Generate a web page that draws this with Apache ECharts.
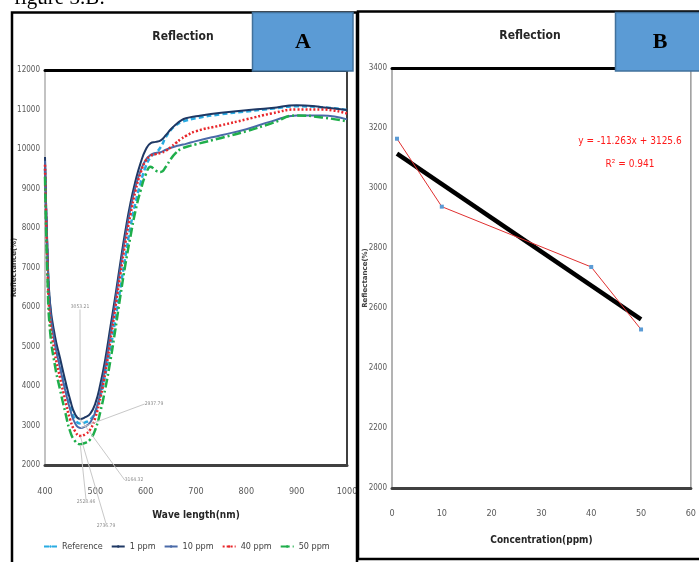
<!DOCTYPE html>
<html>
<head>
<meta charset="utf-8">
<script src="https://cdn.jsdelivr.net/npm/echarts@6/dist/echarts.min.js"></script>
<style>
html,body{margin:0;padding:0;background:#fff;}
#chart{width:699px;height:562px;}
</style>
</head>
<body>
<div id="chart"></div>
<script>
// ---------- Panel A data ----------
const wavelength = [400,405,410,420,430,440,450,460,470,480,490,500,510,520,530,540,550,560,570,580,590,600,610,620,630,640,650,660,670,680,700,750,800,850,900,950,1000];
const reference = [9500,7200,6000,5100,4550,4000,3500,3150,3053.21,3080,3150,3350,3750,4300,4950,5700,6500,7300,8050,8650,9150,9550,9800,9900,10050,10300,10480,10600,10680,10720,10780,10880,10950,11020,11080,11060,10990];
const ppm1 = [9800,7400,6100,5250,4700,4150,3650,3280,3164.32,3210,3300,3560,4050,4700,5500,6300,7150,7950,8650,9200,9650,9980,10150,10180,10220,10350,10500,10620,10720,10780,10830,10920,10980,11040,11110,11060,10990];
const ppm10 = [9700,7300,5950,5050,4450,3900,3400,3050,2937.79,2980,3080,3350,3850,4500,5300,6150,7000,7800,8500,9050,9450,9720,9850,9900,9920,9980,10030,10070,10100,10130,10200,10350,10500,10700,10850,10850,10750];
const ppm40 = [9600,7000,5700,4800,4200,3650,3150,2850,2736.79,2780,2900,3200,3700,4350,5150,6000,6850,7650,8350,8950,9400,9700,9830,9870,9900,9950,10050,10150,10250,10330,10450,10600,10750,10900,11000,11000,10900];
const ppm50 = [9300,6700,5400,4500,3900,3350,2850,2600,2528.46,2560,2650,2900,3350,3950,4650,5450,6300,7100,7800,8450,8950,9350,9550,9450,9420,9550,9750,9900,10000,10050,10120,10280,10450,10650,10850,10800,10700];
const seriesNamesA = ['Reference','1 ppm','10 ppm','40 ppm','50 ppm'];
const troughWavelength = 470;
const xTicksA = {min:400, max:1000, interval:100};
const yTicksA = {min:2000, max:12000, interval:1000};

// ---------- Panel B data ----------
const concentration = [1, 10, 40, 50];
const reflectB = [3164.32, 2937.79, 2736.79, 2528.46];
const trendSlope = -11.263;
const trendIntercept = 3125.6;
const xTicksB = {min:0, max:60, interval:10};
const yTicksB = {min:2000, max:3400, interval:200};

const NARROW = "'Liberation Sans Narrow','DejaVu Sans Condensed','Roboto Condensed',sans-serif";

const styleA = [
  {color:'#29abe2', type:[5,3], width:2.5},
  {color:'#1f3864', type:'solid', width:2},
  {color:'#4a6aa8', type:'solid', width:2},
  {color:'#e8262a', type:[2,2], width:2.5},
  {color:'#1fae4b', type:[9,3,2,3], width:2.5}
];
// annotation text positions for the trough labels
const labelPos = [
  {x:80, y:307},
  {x:134, y:480},
  {x:154, y:404},
  {x:106, y:526},
  {x:86, y:502}
];
const valuesA = [reference, ppm1, ppm10, ppm40, ppm50];

const seriesA = valuesA.map((vals, s) => ({
  name: seriesNamesA[s],
  type: 'line',
  xAxisIndex: 0, yAxisIndex: 0,
  smooth: true,
  symbol: 'none',
  lineStyle: styleA[s],
  itemStyle: {color: styleA[s].color},
  label: {show:false},
  labelLine: {show:true, lineStyle:{color:'#c8c8c8', width:1}},
  labelLayout: function(){ return {x: labelPos[s].x, y: labelPos[s].y, align:'center', verticalAlign:'middle'}; },
  data: wavelength.map((w,i) => w === troughWavelength
    ? {value:[w, vals[i]], symbol:'circle', symbolSize:1,
       label:{show:true, formatter: p => p.value[1].toFixed(2), fontSize:5, color:'#8c8c8c', fontFamily:NARROW},
       labelLine:{show:true, lineStyle:{color:'#c8c8c8', width:1}}}
    : [w, vals[i]]),
  z: 3
}));

const axisLabelStyle = {fontSize:8, color:'#595959', fontFamily:NARROW, formatter: v => String(v)};

const option = {
  animation: false,
  backgroundColor: '#ffffff',
  grid: [
    {left:45, top:70, right:352, bottom:97, show:true, borderColor:'#b0b0b0', borderWidth:1.5},
    {left:392, top:68, right:2, bottom:74, show:true, borderColor:'#9a9a9a', borderWidth:1.5}
  ],
  xAxis: [
    {gridIndex:0, type:'value', ...xTicksA, position:'bottom',
     axisLine:{show:true, lineStyle:{color:'#404040', width:3}}, axisTick:{show:false}, splitLine:{show:false},
     axisLabel:{...axisLabelStyle, fontSize:9, margin:22},
     name:'Wave length(nm)', nameLocation:'middle', nameGap:45, nameMoveOverlap:false,
     nameTextStyle:{fontSize:10, fontWeight:'bold', color:'#262626', fontFamily:NARROW}},
    {gridIndex:0, type:'value', ...xTicksA, position:'top',
     axisLine:{show:true, lineStyle:{color:'#000000', width:3}}, axisTick:{show:false}, splitLine:{show:false}, axisLabel:{show:false}},
    {gridIndex:1, type:'value', ...xTicksB, position:'bottom',
     axisLine:{show:true, lineStyle:{color:'#404040', width:3}}, axisTick:{show:false}, splitLine:{show:false},
     axisLabel:{...axisLabelStyle, fontSize:9, margin:21},
     name:'Concentration(ppm)', nameLocation:'middle', nameGap:47, nameMoveOverlap:false,
     nameTextStyle:{fontSize:10, fontWeight:'bold', color:'#262626', fontFamily:NARROW}},
    {gridIndex:1, type:'value', ...xTicksB, position:'top',
     axisLine:{show:true, lineStyle:{color:'#000000', width:3}}, axisTick:{show:false}, splitLine:{show:false}, axisLabel:{show:false}}
  ],
  yAxis: [
    {gridIndex:0, type:'value', ...yTicksA,
     axisLine:{show:false}, axisTick:{show:false}, splitLine:{show:false},
     axisLabel:{...axisLabelStyle, margin:5},
     name:'Reflectance(%)', nameLocation:'middle', nameGap:27, nameMoveOverlap:false,
     nameTextStyle:{fontSize:7, fontWeight:'bold', color:'#404040', fontFamily:"'DejaVu Sans',sans-serif"}},
    {gridIndex:0, type:'value', ...yTicksA, position:'right',
     axisLine:{show:true, lineStyle:{color:'#404040', width:2}}, axisTick:{show:false}, splitLine:{show:false}, axisLabel:{show:false}},
    {gridIndex:1, type:'value', ...yTicksB,
     axisLine:{show:false}, axisTick:{show:false}, splitLine:{show:false},
     axisLabel:{...axisLabelStyle, margin:5},
     name:'Reflectance(%)', nameLocation:'middle', nameGap:23, nameMoveOverlap:false,
     nameTextStyle:{fontSize:7, fontWeight:'bold', color:'#404040', fontFamily:"'DejaVu Sans',sans-serif"}}
  ],
  legend: {
    data: seriesNamesA,
    left: 38, top: 537,
    itemWidth: 13, itemHeight: 3, itemGap: 8,
    textStyle: {fontSize:9, color:'#404040', fontFamily:NARROW}
  },
  series: [
    ...seriesA,
    {
      name: 'Measured', type: 'line',
      xAxisIndex: 2, yAxisIndex: 2,
      symbol: 'rect', symbolSize: 4,
      itemStyle: {color:'#5b9bd5'},
      lineStyle: {color:'#e03030', width:1},
      data: concentration.map((c,i) => [c, reflectB[i]]),
      z: 4
    },
    {
      name: 'Linear', type: 'line',
      xAxisIndex: 2, yAxisIndex: 2,
      symbol: 'none',
      lineStyle: {color:'#000000', width:4.5},
      data: [concentration[0], concentration[concentration.length-1]].map(c => [c, trendSlope*c + trendIntercept]),
      z: 3
    }
  ],
  graphic: [
    {type:'text', left:14, top:-12, z:50, style:{text:'figure 3.B:', fontSize:21, fontFamily:"'Liberation Serif',serif", fill:'#000'}},
    {type:'rect', shape:{x:12, y:12.5, width:345, height:570}, z:40, style:{fill:'none', stroke:'#000', lineWidth:2.5}},
    {type:'rect', shape:{x:358, y:11.5, width:360, height:547.5}, z:40, style:{fill:'none', stroke:'#000', lineWidth:2.5}},
    {type:'rect', shape:{x:252.5, y:12.5, width:100.5, height:58.5}, z:60, style:{fill:'#5b9bd5', stroke:'#41719c', lineWidth:1.5}},
    {type:'text', x:303, y:42, z:61, style:{text:'A', fontSize:22, fontWeight:'bold', fontFamily:"'Liberation Serif',serif", fill:'#000', align:'center', verticalAlign:'middle'}},
    {type:'rect', shape:{x:615.5, y:12.5, width:100, height:58.5}, z:60, style:{fill:'#5b9bd5', stroke:'#41719c', lineWidth:1.5}},
    {type:'text', x:660, y:42, z:61, style:{text:'B', fontSize:22, fontWeight:'bold', fontFamily:"'Liberation Serif',serif", fill:'#000', align:'center', verticalAlign:'middle'}},
    {type:'text', x:183, y:37, z:50, style:{text:'Reflection', fontSize:12, fontWeight:'bold', fontFamily:NARROW, fill:'#262626', align:'center', verticalAlign:'middle'}},
    {type:'text', x:530, y:36, z:50, style:{text:'Reflection', fontSize:12, fontWeight:'bold', fontFamily:NARROW, fill:'#262626', align:'center', verticalAlign:'middle'}},
    {type:'text', x:630, y:141, z:50, style:{text:'y = -11.263x + 3125.6', fontSize:10, fontFamily:NARROW, fill:'#ff1a1a', align:'center', verticalAlign:'middle'}},
    {type:'text', x:630, y:164, z:50, style:{text:'R\u00b2 = 0.941', fontSize:10, fontFamily:NARROW, fill:'#ff1a1a', align:'center', verticalAlign:'middle'}}
  ]
};

const chart = echarts.init(document.getElementById('chart'), null, {renderer:'canvas'});
chart.setOption(option);
</script>
</body>
</html>
